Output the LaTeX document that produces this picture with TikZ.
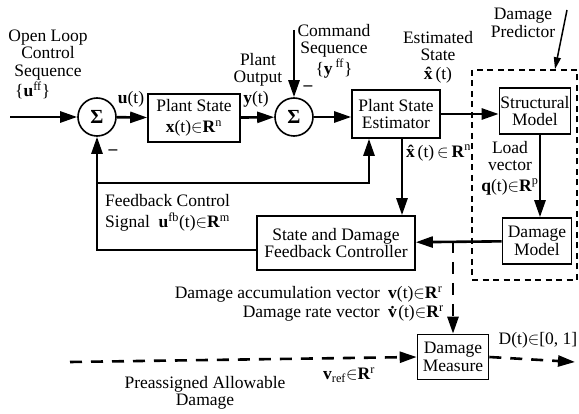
\documentclass[tikz,border=0pt]{standalone}
\usepackage{fontspec}
\setmainfont{Liberation Serif}
\usepackage{tikz}
\usetikzlibrary{
  arrows.meta,
  positioning,
  shapes.geometric
}
\newcommand{\blkfont}{\fontsize{17.5}{17.5}\selectfont}
\newcommand{\vR}[1]{\textbf{R}\textsuperscript{#1}}
\tikzset{
  % Block box
  blk/.style={
    rectangle, draw, line width=1.6pt,
    align=center, inner sep=1pt
  },
  % Summing junction
  sumj/.style={
    circle, draw, line width=1.6pt,
    minimum size=38pt, inner sep=0pt,
    font=\fontsize{20}{20}\selectfont\bfseries
  },
  % Signal line and arrow
  wire/.style={line width=2.6pt},
  sig/.style={-{Triangle[length=17pt,width=11pt]}, line width=2.6pt},
  % Dashed signal arrow
  dsig/.style={sig, dash pattern=on 12pt off 9pt},
  % Dashed group outline
  grp/.style={
    rectangle, draw, line width=1.5pt,
    dash pattern=on 6pt off 4.5pt
  },
  % Text label
  lbl/.style={align=center, inner sep=0pt}
}
\begin{document}
\begin{tikzpicture}[x=1pt, y=-1pt, font=\blkfont]
  \useasboundingbox (0,0) rectangle (579,414);

  % blocks
  \node[sumj] (sum1) at (97,117) {Σ};
  \node[blk, minimum width=92pt, minimum height=48pt] (plant) at (194,118) {Plant State\\[4pt]\textbf{x}(t)$\in$\vR{n}};
  \node[sumj] (sum2) at (294,117) {Σ};
  \node[blk, minimum width=88pt, minimum height=48pt] (est) at (396,114) {Plant State\\Estimator};
  \node[blk, minimum width=69pt, minimum height=46pt] (struct) at (535,111) {Structural\\Model};
  \node[blk, minimum width=69pt, minimum height=46pt] (dmodel) at (537,241) {Damage\\Model};
  \node[blk, minimum width=158pt, minimum height=54pt] (ctrl) at (336,243) {State and Damage\\Feedback Controller};
  \node[blk, minimum width=71pt, minimum height=45pt] (measure) at (453,357) {Damage\\Measure};
  \node[grp, minimum width=105pt, minimum height=210pt] (pred) at (524.5,175) {};

  % free ends and branch points
  \coordinate (uin) at (10,117);
  \coordinate (cmdtop) at (294,30);
  \coordinate (dptop) at (567,10);
  \coordinate (fbsplit) at (97,183);
  \coordinate (estin) at ([xshift=-27pt]est.south);
  \coordinate (estout) at ([xshift=6pt]est.south);
  \coordinate (fbout) at ([yshift=-7pt]ctrl.west);
  \coordinate (vsplit) at (measure.north |- dmodel.west);
  \coordinate (vrefin) at (70,362);
  \coordinate (dout) at (575,362);

  % forward path
  \draw[sig] (uin) -- (sum1);
  \draw[sig] (sum1) -- (plant);
  \draw[sig] (plant) -- (sum2);
  \draw[sig] (cmdtop) -- (sum2.north);
  \draw[sig] (sum2) -- (sum2 -| est.west);
  \draw[sig] (est.east) -- (est.east -| struct.west);
  \draw[sig] (struct.south -| 540,0) -- (dmodel.north -| 540,0);
  \draw[sig] (dmodel) -- (ctrl);
  \draw[sig] (estout) -- (estout |- ctrl.north);

  % feedback path
  \draw[sig] (fbout) -| (sum1.south);
  \draw[sig] (fbsplit) -| (estin);

  % damage measure
  \draw[dsig] (vsplit) -- (measure.north);
  \draw[dsig] (vrefin) -- (measure.west);
  \draw[dsig] (measure.east) -- (dout);
  \draw[-{Triangle[length=12pt,width=7pt]}, line width=1.5pt] (dptop) -- ([xshift=30.5pt]pred.north);

  % labels
  \node[lbl] (olcs) at (48,55) {Open Loop\\Control\\Sequence};
  \node[lbl, anchor=west] (uff) at (15,90) {\{\textbf{u}\textsuperscript{ff}\}};
  \node[lbl] (ut) at (131,99) {\textbf{u}(t)};
  \node[lbl] (pout) at (258,70) {Plant\\Output};
  \node[lbl] (yt) at (256,99) {\textbf{y}(t)};
  \node[lbl] (cmd) at (334,51) {Command\\Sequence\\[1pt]\{\textbf{y}\,\textsuperscript{ff}\}};
  \node[lbl] (minus2) at (308,88) {\textbf{--}};
  \node[lbl] (minus1) at (113,152) {\textbf{--}};
  \node[lbl] (estst) at (438,57) {Estimated\\State\\[1pt]\textbf{\^{x}}(t)};
  \node[lbl, anchor=west] (xhat) at (406,153) {\textbf{\^{x}}(t)\,$\in$\,\vR{n}};
  \node[lbl] (load) at (510,168) {Load\\vector\\[3pt]\textbf{q}(t)$\in$\vR{p}};
  \node[lbl] (dpred) at (523,23) {Damage\\Predictor};
  \node[lbl, anchor=west, align=left] (fbsig) at (105,213) {Feedback Control\\[3pt]Signal\ \ \textbf{u}\textsuperscript{fb}(t)$\in$\vR{m}};
  \node[lbl, anchor=east, align=right] (dvec) at (380,304) {Damage accumulation vector\\[1pt]Damage rate vector};
  \node[lbl, anchor=west, align=left] (vvec) at (388,304) {\textbf{v}(t)$\in$\vR{r}\\[1pt]\textbf{\.{v}}(t)$\in$\vR{r}};
  \node[lbl] (pad) at (205,393) {Preassigned Allowable\\Damage};
  \node[lbl, anchor=west] (vref) at (323,375) {\textbf{v}\textsubscript{ref}$\in$\vR{r}};
  \node[lbl] (dt) at (538,340) {D(t)$\in$[0, 1]};
\end{tikzpicture}
\end{document}
